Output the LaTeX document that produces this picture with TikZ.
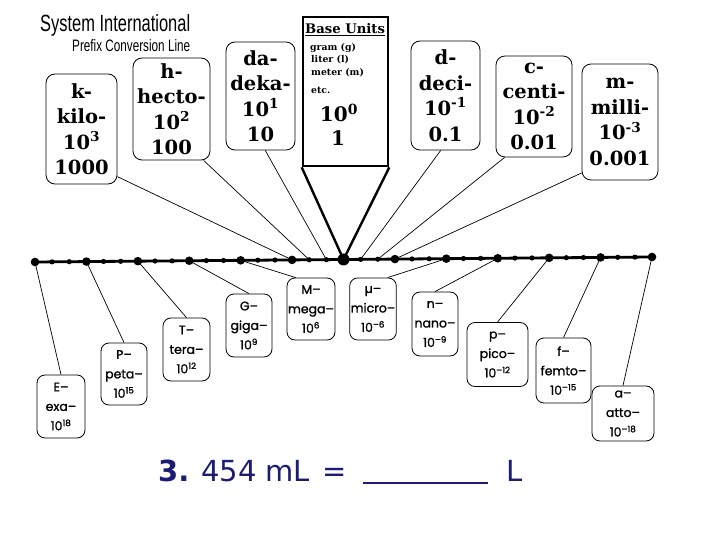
\documentclass[tikz,border=0pt]{standalone}
\usepackage{fontspec}
\setmainfont{DejaVu Serif}
\newfontfamily\lowfont{Poppins}
\newfontfamily\titlefont{Liberation Sans}
\newfontfamily\quizfont{DejaVu Sans}
\usepackage{graphicx}
\definecolor{quizblue}{HTML}{1C1C73}

\begin{document}
\begin{tikzpicture}[x=1pt, y=-1pt,
      upbox/.style={draw, line width=0.8pt, rounded corners=9pt, align=center, inner sep=1pt,
        font=\fontsize{19.5}{25.5}\selectfont\bfseries},
      lowbox/.style={draw, line width=0.8pt, rounded corners=8pt, align=center, inner sep=1pt,
        font=\lowfont\fontsize{12.5}{19.5}\selectfont\addfontfeature{FakeBold=1.2}},
      basesmall/.style={anchor=base west, inner sep=0pt, font=\fontsize{9.3}{9.5}\selectfont\bfseries},
      quiz/.style={anchor=base west, inner sep=0pt, text=quizblue, font=\quizfont\fontsize{29}{30}\selectfont},
      link/.style={line width=0.7pt}]
    \fill[white] (0,0) rectangle (720,540);
    \useasboundingbox (0,0) rectangle (720,540);
    % title
    \node[anchor=base west, inner sep=0pt, font=\titlefont] (title) at (40,32) {\resizebox{150pt}{17pt}{System International}};
    \node[anchor=base west, inner sep=0pt, font=\titlefont] (subtitle) at (72,52) {\resizebox{118pt}{12pt}{Prefix Conversion Line}};
    % the line, one point per power of ten
    \foreach \i in {0,...,36} {
      \coordinate (p\i) at ({35+\i*17.139}, {262-\i*0.139});
    }
    \draw[line width=2.8pt] (p0) -- (p36);
    \foreach \i in {0,3,...,36} \fill (p\i) circle (4.3pt);
    \foreach \i in {1,2,4,5,7,8,10,11,13,14,16,17,19,20,22,23,25,26,28,29,31,32,34,35} \fill (p\i) circle (2.6pt);
    \fill (p18) circle (6pt);
    % upper prefixes
    \node[upbox, minimum width=71pt, minimum height=110pt] (kilo) at (81.5,129) {k-\\kilo-\\10\textsuperscript{3}\\1000};
    \node[upbox, minimum width=77pt, minimum height=102pt] (hecto) at (171.5,109) {h-\\hecto-\\10\textsuperscript{2}\\100};
    \node[upbox, minimum width=69pt, minimum height=108pt] (deka) at (260.5,96) {da-\\deka-\\10\textsuperscript{1}\\10};
    \node[upbox, minimum width=69pt, minimum height=109pt] (deci) at (445.5,95.5) {d-\\deci-\\10\textsuperscript{-1}\\0.1};
    \node[upbox, minimum width=76pt, minimum height=101pt] (centi) at (534,106.5) {c-\\centi-\\10\textsuperscript{-2}\\0.01};
    \node[upbox, minimum width=76pt, minimum height=116pt] (milli) at (620,122) {m-\\milli-\\10\textsuperscript{-3}\\0.001};
    % base units
    \node[draw, line width=2.6pt, minimum width=85pt, minimum height=149pt, inner sep=0pt] (base) at (345.5,91.5) {};
    \node[anchor=base west, inner sep=0pt, font=\fontsize{13.2}{13}\selectfont\bfseries] (basetitle) at (305,34) {\underline{Base Units}};
    \node[basesmall] (gram) at (310,51) {gram (g)};
    \node[basesmall] (liter) at (311,63) {liter (l)};
    \node[basesmall] (meter) at (311,76) {meter (m)};
    \node[basesmall] (etc) at (311,94) {etc.};
    \node[inner sep=0pt, font=\fontsize{20}{20}\selectfont\bfseries, anchor=base] (zero) at (339,122) {10\textsuperscript{0}};
    \node[inner sep=0pt, font=\fontsize{20}{20}\selectfont\bfseries, anchor=base] (one) at (338,146) {1};
    \draw[line width=2.4pt, line join=miter] (base.south west) -- (p18) -- (base.south east);
    % lower prefixes
    \node[lowbox, minimum width=48pt, minimum height=63pt] (exa) at (61,406.5) {E–\\exa–\\10\textsuperscript{18}};
    \node[lowbox, minimum width=46pt, minimum height=62pt] (peta) at (124,374) {P–\\peta–\\10\textsuperscript{15}};
    \node[lowbox, minimum width=47pt, minimum height=63pt] (tera) at (186.5,349.5) {T–\\tera–\\10\textsuperscript{12}};
    \node[lowbox, minimum width=46pt, minimum height=63pt] (giga) at (249,325.5) {G–\\giga–\\10\textsuperscript{9}};
    \node[lowbox, minimum width=46pt, minimum height=62pt] (mega) at (311,309) {M–\\mega–\\10\textsuperscript{6}};
    \node[lowbox, minimum width=46pt, minimum height=62pt] (micro) at (373,309) {µ–\\micro–\\10\textsuperscript{–6}};
    \node[lowbox, minimum width=46pt, minimum height=64pt] (nano) at (435,324) {n–\\nano–\\10\textsuperscript{–9}};
    \node[lowbox, minimum width=61pt, minimum height=64pt] (pico) at (497.5,354.5) {p–\\pico–\\10\textsuperscript{–12}};
    \node[lowbox, minimum width=55pt, minimum height=65pt] (femto) at (563.5,370.5) {f–\\femto–\\10\textsuperscript{–15}};
    \node[lowbox, minimum width=62pt, minimum height=55pt] (atto) at (623,413.5) {a–\\atto–\\10\textsuperscript{–18}};
    % links to the line
    \draw[link] (kilo.-53) -- (p15); \draw[link] (hecto.-58) -- (p16); \draw[link] (deka.-85) -- (p17);
    \draw[link] (deci.-95) -- (p19); \draw[link] (centi.-120) -- (p20); \draw[link] (milli.-127) -- (p21);
    \draw[link] (exa.north) -- (p0); \draw[link] (peta.north) -- (p3); \draw[link] (tera.north) -- (p6);
    \draw[link] (giga.north) -- (p9); \draw[link] (mega.116) -- (p12); \draw[link] (micro.65) -- (p24);
    \draw[link] (nano.north) -- (p27); \draw[link] (pico.north) -- (p30); \draw[link] (femto.north) -- (p33);
    \draw[link] (atto.north) -- (p36);
    % question
    \node[quiz, font=\quizfont\bfseries\fontsize{29}{30}\selectfont] (qnum) at (158,481) {3.};
    \node[quiz] (qval) at (201,481) {454 mL};
    \node[quiz] (qeq) at (322,481) {=};
    \coordinate (blankL) at (363,483); \coordinate (blankR) at (488,483);
    \draw[quizblue, line width=1.3pt] (blankL) -- (blankR);
    \node[quiz] (qunit) at (506,481) {L};
  \end{tikzpicture}
\end{document}
